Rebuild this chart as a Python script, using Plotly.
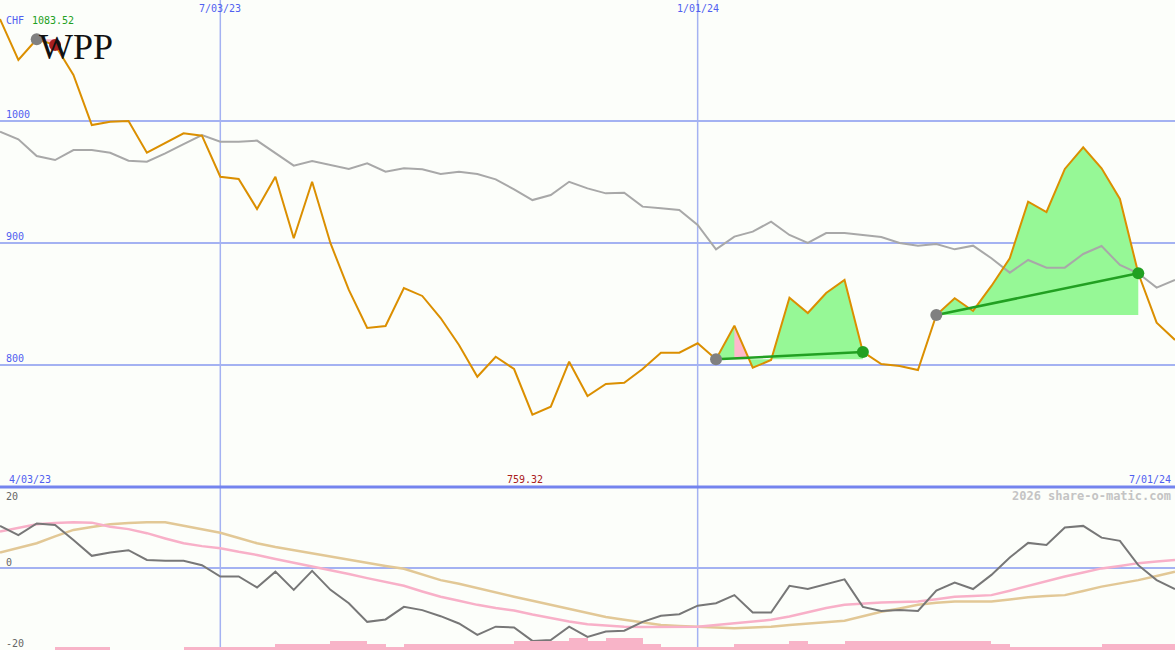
import pandas as pd
import plotly.graph_objects as go

# ---------------- data ----------------
dates = pd.date_range("2023-04-10", "2024-07-01", freq="7D")

price = [1083.52, 1050.0, 1067.0, 1062.3, 1037.7, 996.7, 999.4, 1000.0, 974.0, 982.2,
         989.9, 988.0, 954.3, 952.5, 927.9, 954.3, 903.9, 950.2, 899.8, 861.5,
         830.3, 832.0, 863.1, 856.6, 838.5, 816.4, 790.4, 806.8, 796.7, 759.32,
         765.8, 802.7, 774.6, 784.4, 785.5, 796.7, 810.1, 810.1, 817.8, 804.7,
         832.2, 797.8, 804.1, 855.2, 842.6, 859.0, 869.7, 810.7, 800.8, 799.2,
         795.9, 841.0, 854.7, 844.3, 864.8, 887.5, 933.9, 925.4, 960.7, 978.4,
         961.2, 936.1, 875.2, 834.7, 820.5]

benchmark = [991.2, 985.0, 971.3, 968.0, 976.2, 976.2, 974.0, 967.5, 966.6, 973.5,
             981.1, 988.5, 983.0, 983.0, 983.9, 973.5, 963.4, 967.2, 963.9, 960.7,
             965.3, 958.4, 961.2, 960.4, 956.6, 958.4, 956.6, 952.2, 944.0, 935.2,
             939.3, 950.2, 944.8, 940.7, 941.2, 929.8, 928.4, 927.0, 914.8, 894.8,
             905.2, 909.3, 917.5, 906.6, 900.0, 908.2, 908.2, 906.6, 904.9, 900.0,
             897.8, 899.2, 894.8, 897.8, 887.5, 875.7, 886.1, 879.8, 879.8, 891.0,
             897.5, 882.0, 875.2, 863.4, 869.7]

momentum = [10.4, 8.1, 11.0, 10.6, 6.9, 3.0, 3.8, 4.4, 2.0, 1.8,
            1.8, 0.7, -2.1, -2.1, -4.8, -0.9, -5.4, -0.7, -5.4, -8.7,
            -13.3, -12.7, -9.6, -10.4, -11.9, -13.7, -16.5, -14.5, -14.7, -18.0,
            -17.8, -14.5, -17.0, -15.7, -15.5, -13.3, -11.8, -11.4, -9.3, -8.7,
            -6.7, -11.0, -11.0, -4.4, -5.2, -4.0, -2.8, -9.6, -10.6, -10.4,
            -10.6, -5.6, -3.6, -5.2, -1.7, 2.6, 6.2, 5.7, 10.0, 10.4,
            7.5, 6.7, 0.7, -3.0, -5.2]

pink_avg = [9.0, 9.9, 10.8, 11.1, 11.3, 11.2, 10.2, 9.6, 8.6, 7.3,
            6.1, 5.4, 4.9, 4.0, 3.2, 2.2, 1.3, 0.4, -0.5, -1.5,
            -2.5, -3.4, -4.4, -5.8, -7.1, -8.1, -9.1, -9.9, -10.5, -11.5,
            -12.4, -13.2, -13.9, -14.2, -14.5, -14.6, -14.6, -14.6, -14.5, -14.1,
            -13.7, -13.3, -12.8, -12.0, -10.9, -9.9, -9.1, -8.8, -8.5, -8.4,
            -8.3, -7.7, -7.1, -6.9, -6.7, -5.6, -4.4, -3.3, -2.1, -1.1,
            -0.1, 0.5, 1.2, 1.6, 2.0]

tan_avg = [3.8, 4.9, 6.1, 7.8, 9.4, 10.1, 10.8, 11.1, 11.3, 11.3,
           10.4, 9.6, 8.7, 7.4, 6.1, 5.2, 4.4, 3.6, 2.8, 2.0,
           1.2, 0.5, -0.2, -1.6, -3.0, -3.9, -5.0, -6.0, -7.1, -8.1,
           -9.1, -10.1, -11.2, -12.1, -12.8, -13.5, -14.1, -14.3, -14.5, -14.7,
           -14.9, -14.7, -14.5, -14.1, -13.7, -13.3, -13.0, -11.9, -10.8, -10.0,
           -9.1, -8.6, -8.3, -8.3, -8.3, -7.8, -7.2, -6.9, -6.7, -5.7,
           -4.6, -3.8, -3.0, -2.0, -0.9]

vol_levels = [0, 0, 0, 1, 1, 1, 0, 0, 0, 0,
              1, 1, 1, 1, 1, 2, 2, 2, 3, 3,
              2, 1, 2, 2, 2, 2, 2, 2, 3, 3,
              3, 4, 3, 4, 4, 2, 1, 1, 1, 1,
              2, 2, 2, 3, 2, 2, 3, 3, 3, 3,
              3, 3, 3, 3, 2, 1, 1, 1, 1, 1,
              2, 2, 2, 2, 0]

trade_entry = [2, 39, 51]
trade_exit = [3, 47, 62]
trade_won = [False, True, True]
pink_split = {39: 40}   # trade starting at 39: falling week after index 40 shaded pink

price_ticks = [800, 900, 1000]
price_tick_labels = ["800", "900", "1000"]
osc_ticks = [20, 0, -20]
vline_dates = ["2023-07-03", "2024-01-01"]
vline_labels = ["7/03/23", "1/01/24"]
start_label, end_label = "4/03/23", "7/01/24"
currency, max_label, min_label = "CHF", "1083.52", "759.32"
ticker = "WPP"
credit = "2026 share-o-matic.com"

# ---------------- styling ----------------
W, H = 1175, 650
BG = "#FCFEFA"
GRID = "#A4B2F2"
BLUE_TXT = "#5060F0"
ORANGE = "#DB8F00"
SPLIT = (650 - 487) / 650
P_TOP, P_BOT = 1099.18, 700

fig = go.Figure()

# volume-like bars in lower panel
fig.add_trace(go.Bar(x=dates, y=vol_levels, xaxis="x", yaxis="y3",
                     marker=dict(color="#F8B4C8", line=dict(width=0)),
                     width=7 * 86400000, offset=0, hoverinfo="skip"))

# trade fills
week = pd.Timedelta(days=7)
for e, x_, won in zip(trade_entry, trade_exit, trade_won):
    pe = price[e]
    xs = list(dates[e:x_ + 1]) + [dates[x_], dates[e]]
    ys = price[e:x_ + 1] + [pe, pe]
    if won:
        fig.add_trace(go.Scatter(x=xs, y=ys, fill="toself", fillcolor="#96F896",
                                 mode="lines", line=dict(width=0), hoverinfo="skip"))
        if e in pink_split:
            k = pink_split[e]
            t = (price[k] - pe) / (price[k] - price[k + 1])
            xc = dates[k] + t * week
            fig.add_trace(go.Scatter(x=[dates[k], xc, dates[k], dates[k]],
                                     y=[price[k], pe, pe, price[k]],
                                     fill="toself", fillcolor="#FFB8CC",
                                     mode="lines", line=dict(width=0), hoverinfo="skip"))
    else:
        fig.add_trace(go.Scatter(x=[dates[e], dates[x_], dates[x_], dates[e]],
                                 y=[pe, price[x_], pe, pe],
                                 fill="toself", fillcolor="#FFB8CC",
                                 mode="lines", line=dict(width=0), hoverinfo="skip"))

# benchmark + price
fig.add_trace(go.Scatter(x=dates, y=benchmark, mode="lines",
                         line=dict(color="#A8A8A8", width=2), hoverinfo="skip"))
fig.add_trace(go.Scatter(x=dates, y=price, mode="lines",
                         line=dict(color=ORANGE, width=2), hoverinfo="skip"))

# trade lines and dots
for e, x_, won in zip(trade_entry, trade_exit, trade_won):
    if won:
        fig.add_trace(go.Scatter(x=[dates[e], dates[x_]], y=[price[e], price[x_]],
                                 mode="lines", line=dict(color="#22A022", width=2.5),
                                 hoverinfo="skip"))
for e, x_, won in zip(trade_entry, trade_exit, trade_won):
    fig.add_trace(go.Scatter(x=[dates[e]], y=[price[e]], mode="markers",
                             marker=dict(color="#808080", size=12), hoverinfo="skip"))
    fig.add_trace(go.Scatter(x=[dates[x_]], y=[price[x_]], mode="markers",
                             marker=dict(color="#22A022" if won else "#AA2020", size=12),
                             hoverinfo="skip"))

# oscillator panel
fig.add_trace(go.Scatter(x=dates, y=tan_avg, xaxis="x", yaxis="y2", mode="lines",
                         line=dict(color="#E2C896", width=2.5), hoverinfo="skip"))
fig.add_trace(go.Scatter(x=dates, y=pink_avg, xaxis="x", yaxis="y2", mode="lines",
                         line=dict(color="#F8B0C8", width=2.5), hoverinfo="skip"))
fig.add_trace(go.Scatter(x=dates, y=momentum, xaxis="x", yaxis="y2", mode="lines",
                         line=dict(color="#777777", width=2), hoverinfo="skip"))

# shapes: vertical date lines and panel divider
shapes = []
for d in vline_dates:
    shapes.append(dict(type="line", xref="x", yref="paper", x0=d, x1=d, y0=0, y1=1,
                       line=dict(color=GRID, width=1.5), layer="below"))
shapes.append(dict(type="line", xref="paper", yref="paper", x0=0, x1=1, y0=SPLIT, y1=SPLIT,
                   line=dict(color="#7484EE", width=3), layer="below"))


def ann(text, px, py, color, size=10, xanchor="left", family="DejaVu Sans Mono", bold=False):
    return dict(text=f"<b>{text}</b>" if bold else text, x=px / W, y=1 - py / H,
                xref="paper", yref="paper", xanchor=xanchor, yanchor="middle",
                showarrow=False, font=dict(color=color, size=size, family=family))


annotations = [
    ann(currency, 4, 20, BLUE_TXT),
    ann(max_label, 30, 20, "#22A022"),
    ann(ticker, 76, 47, "#111111", size=36, xanchor="center", family="Liberation Serif"),
    ann(start_label, 7, 479, BLUE_TXT),
    ann(min_label, 525, 479, "#AA2020", xanchor="center"),
    ann(end_label, 1173, 479, BLUE_TXT, xanchor="right"),
    ann(credit, 1173, 496, "#C4C4C4", size=12, xanchor="right", bold=True),
]
for d, lab in zip(vline_dates, vline_labels):
    px = (pd.Timestamp(d) - dates[0]) / (dates[-1] - dates[0]) * W
    annotations.append(ann(lab, px, 8, BLUE_TXT, xanchor="center"))
for v, lab in zip(price_ticks, price_tick_labels):
    py = (P_TOP - v) / (P_TOP - P_BOT) * 487
    annotations.append(ann(lab, 4, py - 6, BLUE_TXT))
osc_py = {20: 496, 0: 562, -20: 643}
for v in osc_ticks:
    annotations.append(ann(str(v), 4, osc_py[v], "#666666"))

fig.update_layout(
    width=W, height=H, margin=dict(l=0, r=0, t=0, b=0),
    paper_bgcolor=BG, plot_bgcolor=BG, showlegend=False,
    xaxis=dict(range=[dates[0], dates[-1]], showgrid=False, showticklabels=False,
               zeroline=False, showline=False, fixedrange=True),
    yaxis=dict(domain=[SPLIT, 1], range=[P_BOT, P_TOP], tickvals=price_ticks,
               showgrid=True, gridcolor=GRID, gridwidth=2, showticklabels=False,
               zeroline=False, showline=False),
    yaxis2=dict(domain=[0, SPLIT], range=[-20.25, 20], tickvals=[0],
                showgrid=True, gridcolor=GRID, gridwidth=2, showticklabels=False,
                zeroline=False, showline=False),
    yaxis3=dict(domain=[0, SPLIT], overlaying="y2", range=[0, 163 / 3], visible=False),
    shapes=shapes, annotations=annotations, bargap=0,
)

fig.write_html(
    "out.html",
    config={"displayModeBar": False},
    post_script="document.body.style.margin='0';document.body.style.padding='0';"
                "document.body.style.overflow='hidden';document.body.style.background='" + BG + "';",
)
